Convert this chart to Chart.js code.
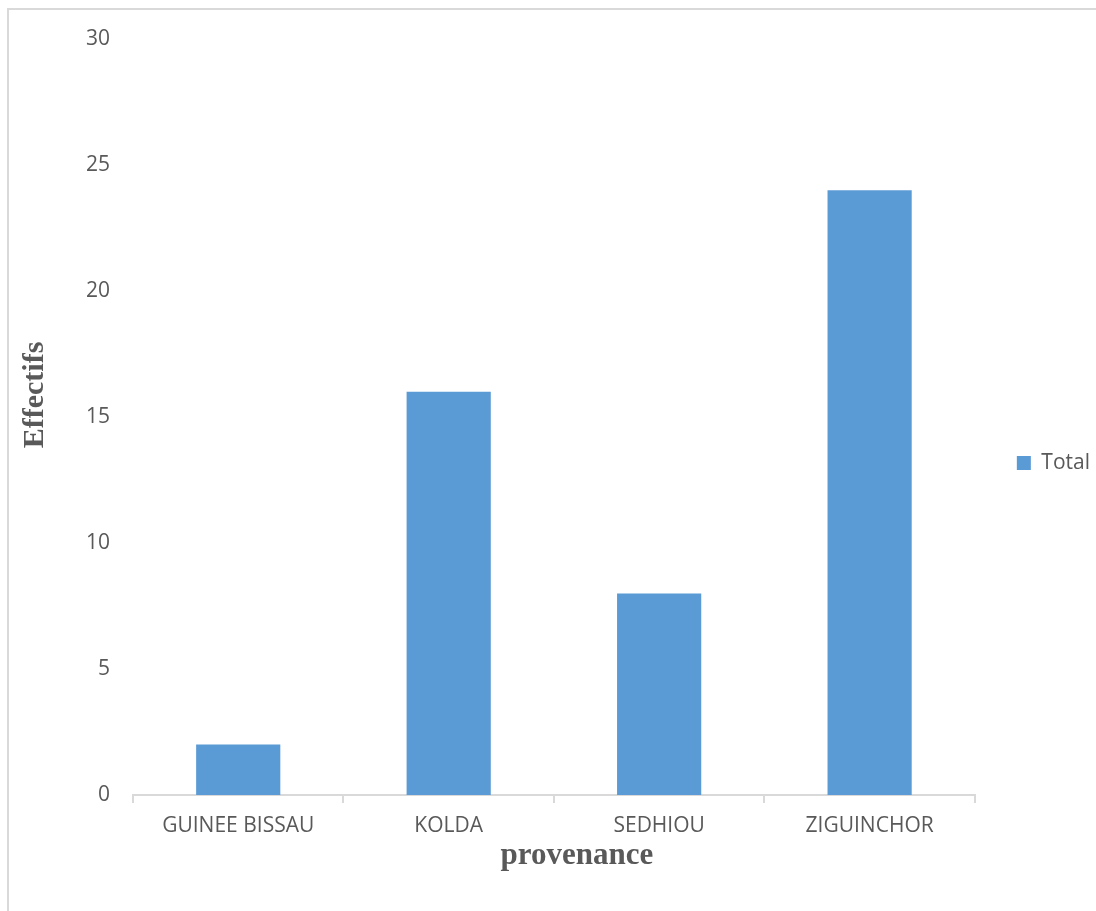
<!DOCTYPE html>
<html lang="fr">
  <head>
    <meta charset="UTF-8" />
    <title>Effectifs par provenance</title>
    <style>
      html, body {
        margin: 0;
        padding: 0;
        background: #fff;
        overflow: hidden;
      }
      /* frame of the chart, right and bottom edges fall outside the window */
      .frame {
        position: absolute;
        left: 7px;
        top: 8px;
        width: 1200px;
        height: 1000px;
        border-left: 2px solid #d9d9d9;
        border-top: 2px solid #d9d9d9;
      }
      .chart-box {
        position: absolute;
        left: 0;
        top: 0;
        width: 1096px;
        height: 911px;
      }
    </style>
  </head>
  <body>
    <div class="frame"></div>
    <div class="chart-box">
      <canvas id="chart"></canvas>
    </div>
    <script src="https://cdn.jsdelivr.net/npm/chart.js"></script>
    <script>
      const categories = ["GUINEE BISSAU", "KOLDA", "SEDHIOU", "ZIGUINCHOR"];
      const totals = [2, 16, 8, 24];
      const yTicks = [0, 5, 10, 15, 20, 25, 30];

      const textGray = "#595959";
      const lineGray = "#d9d9d9";
      const titleFont = "bold 31px 'Liberation Serif'";

      // axis titles, placed a bit off-centre like in the original
      const axisTitlePlugin = {
        id: "axisTitles",
        afterDraw(chart) {
          const area = chart.chartArea;
          const c = chart.ctx;
          c.save();
          c.font = titleFont;
          c.fillStyle = textGray;
          c.textAlign = "center";
          c.textBaseline = "middle";
          c.fillText("provenance", (area.left + area.right) / 2 + 23, 856);
          c.translate(35, (area.top + area.bottom) / 2 - 22);
          c.rotate(-Math.PI / 2);
          c.font = "bold 30px 'Liberation Serif'";
          c.fillText("Effectifs", 0, 0);
          c.restore();
        }
      };

      const ctx = document.getElementById("chart").getContext("2d");
      new Chart(ctx, {
        type: "bar",
        data: {
          labels: categories,
          datasets: [{
            label: "Total",
            data: totals,
            backgroundColor: "#5b9bd5",
            barPercentage: 0.8,
            categoryPercentage: 0.5
          }]
        },
        options: {
          responsive: true,
          maintainAspectRatio: false,
          animation: false,
          layout: {
            padding: { left: 0, top: 39, right: -4, bottom: 24 }
          },
          plugins: {
            legend: {
              position: "right",
              labels: {
                boxWidth: 14,
                boxHeight: 14,
                padding: 42,
                color: textGray,
                font: { family: "Open Sans", size: 21 }
              }
            },
            tooltip: { enabled: false }
          },
          scales: {
            x: {
              grid: {
                display: true,
                offset: true,
                drawOnChartArea: false,
                drawTicks: true,
                tickLength: 8,
                color: lineGray,
                lineWidth: 2
              },
              border: { display: true, color: lineGray, width: 2 },
              ticks: {
                color: textGray,
                padding: 10,
                font: { family: "Open Sans", size: 21 }
              },
              afterFit(scale) { scale.height = 92; }
            },
            y: {
              min: 0,
              max: 30,
              afterBuildTicks(scale) {
                scale.ticks = yTicks.map(v => ({ value: v }));
              },
              grid: { display: false },
              border: { display: false },
              ticks: {
                color: textGray,
                padding: 15,
                font: { family: "Open Sans", size: 21 }
              },
              afterFit(scale) { scale.width = 133; }
            }
          }
        },
        plugins: [axisTitlePlugin]
      });
    </script>
  </body>
</html>
